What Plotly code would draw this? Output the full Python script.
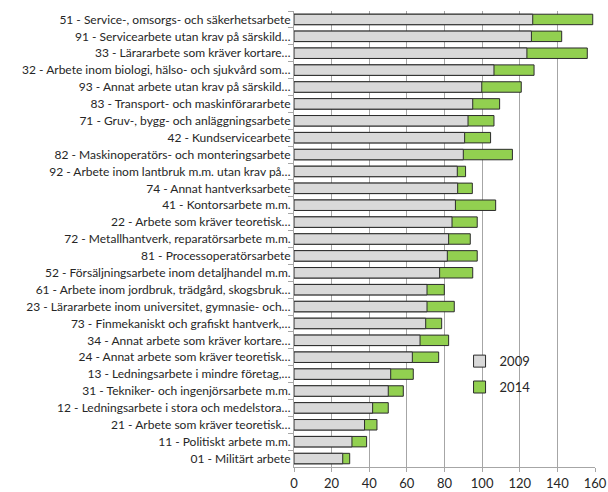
import plotly.graph_objects as go

categories = [
    "51 - Service-, omsorgs- och säkerhetsarbete",
    "91 - Servicearbete utan krav på särskild…",
    "33 - Lärararbete som kräver kortare…",
    "32 - Arbete inom biologi, hälso- och sjukvård som…",
    "93 - Annat arbete utan krav på särskild…",
    "83 - Transport- och maskinförararbete",
    "71 - Gruv-, bygg- och anläggningsarbete",
    "42 - Kundservicearbete",
    "82 - Maskinoperatörs- och monteringsarbete",
    "92 - Arbete inom lantbruk m.m. utan krav på…",
    "74 - Annat hantverksarbete",
    "41 - Kontorsarbete m.m.",
    "22 - Arbete som kräver teoretisk…",
    "72 - Metallhantverk, reparatörsarbete m.m.",
    "81 - Processoperatörsarbete",
    "52 - Försäljningsarbete inom detaljhandel m.m.",
    "61 - Arbete inom jordbruk, trädgård, skogsbruk…",
    "23 - Lärararbete inom universitet, gymnasie- och…",
    "73 - Finmekaniskt och grafiskt hantverk,…",
    "34 - Annat arbete som kräver kortare…",
    "24 - Annat arbete som kräver teoretisk…",
    "13 - Ledningsarbete i mindre företag,…",
    "31 - Tekniker- och ingenjörsarbete m.m.",
    "12 - Ledningsarbete i stora och medelstora…",
    "21 - Arbete som kräver teoretisk…",
    "11 - Politiskt arbete m.m.",
    "01 - Militärt arbete",
]

values_2009 = [126.9, 126.2, 123.8, 106.3, 99.8, 95.0, 92.5, 90.7, 90.0,
               86.8, 87.0, 85.8, 84.0, 82.2, 81.5, 77.4, 70.7, 70.7, 70.0,
               67.0, 62.9, 51.4, 50.1, 41.8, 37.5, 30.8, 25.9]
values_2014 = [158.8, 142.3, 155.9, 127.6, 120.8, 109.3, 106.3, 104.5, 116.1,
               91.2, 94.8, 107.2, 97.4, 93.7, 97.4, 95.0, 79.9, 85.2, 78.5,
               82.2, 76.9, 63.4, 58.1, 50.1, 44.1, 38.6, 29.6]

fig = go.Figure()
fig.add_trace(go.Bar(y=categories, x=values_2014, orientation="h", name="2014",
                     marker=dict(color="#92d050", line=dict(color="#2b2b2b", width=1)),
                     legendgroup="b", legendrank=2))
fig.add_trace(go.Bar(y=categories, x=values_2009, orientation="h", name="2009",
                     marker=dict(color="#d9d9d9", line=dict(color="#2b2b2b", width=1)),
                     legendgroup="a", legendrank=1))

fig.update_layout(
    width=608, height=492,
    barmode="overlay", bargap=0.38,
    plot_bgcolor="white", paper_bgcolor="white",
    margin=dict(l=294, r=13, t=11, b=25, autoexpand=False),
    font=dict(family="Lato", size=12, color="#262626"),
    legend=dict(x=0.55, y=0.265, xanchor="left", yanchor="top",
                bgcolor="rgba(0,0,0,0)", font=dict(size=13),
                itemwidth=30, tracegroupgap=6),
)
fig.update_xaxes(range=[0, 160], dtick=20, showgrid=True, gridcolor="#a6a6a6",
                 gridwidth=1, showline=True, linecolor="#a6a6a6", ticks="outside",
                 ticklen=4, tickcolor="#a6a6a6", zeroline=False,
                 tickfont=dict(size=13), automargin=False)
fig.update_yaxes(autorange="reversed", showline=True, linecolor="#a6a6a6",
                 ticks="outside", tickson="boundaries", ticklen=5, tickcolor="#a6a6a6",
                 automargin=False)

# drop the default 8px body margin so the figure fills the window exactly
fig.write_html("out.html", config={"displayModeBar": False},
               post_script="document.body.style.margin='0';")
